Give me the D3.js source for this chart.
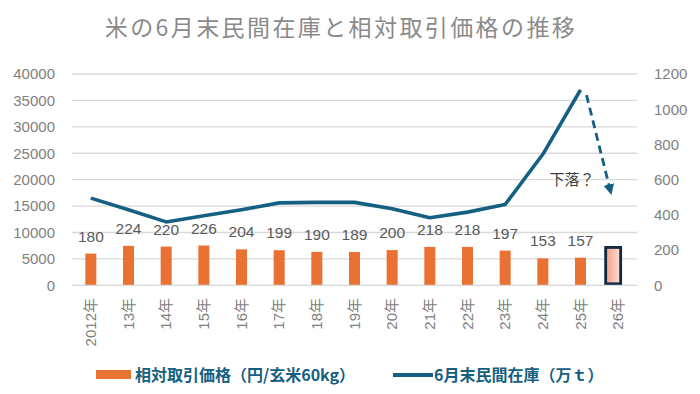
<!DOCTYPE html>
<html><head><meta charset="utf-8">
<script src="https://cdn.jsdelivr.net/npm/d3@7"></script>
<style>
html,body{margin:0;padding:0;background:#fff;}
svg{display:block;}
</style></head>
<body>
<svg id="c" width="700" height="394"></svg>
<script>
// ---- data ----
const categories = ["2012年","13年","14年","15年","16年","17年","18年","19年","20年","21年","22年","23年","24年","25年","26年"];
// bars (right axis, labelled values)
const barValues = [180,224,220,226,204,199,190,189,200,218,218,197,153,157,215];
const barLabels = ["180","224","220","226","204","199","190","189","200","218","218","197","153","157",""];
// line (left axis)
const lineValues = [16500,14300,12000,13150,14300,15600,15700,15700,14500,12800,13850,15300,24800,37000,null];
const leftTicks = [0,5000,10000,15000,20000,25000,30000,35000,40000];
const rightTicks = [0,200,400,600,800,1000,1200];
const title = "米の6月末民間在庫と相対取引価格の推移";
const legendLabels = ["相対取引価格（円/玄米60kg）","6月末民間在庫（万ｔ）"];
const annotationText = "下落？";
const arrowFrom = {cat:"25年", value:36000};
const arrowTo = {cat:"26年", value:17300};

// ---- layout ----
const L = 72, R = 637, T = 74, B = 285.3;
const latin = "'Liberation Sans', Arial, 'Noto Sans CJK JP', sans-serif";
const jp = "'Noto Sans CJK JP', sans-serif";
const cOrange = "#E97132", cTeal = "#156082", cNavy = "#0E2841";

const svg = d3.select("#c");
const x = d3.scaleBand().domain(categories).range([L, R]).padding(0);
const yL = d3.scaleLinear().domain([0, 40000]).range([B, T]);
const yR = d3.scaleLinear().domain([0, 1200]).range([B, T]);
const cx = c => x(c) + x.bandwidth() / 2;

const defs = svg.append("defs");
const grad = defs.append("linearGradient").attr("id","pinkg").attr("x1","0").attr("x2","1").attr("y1","0").attr("y2","0");
grad.append("stop").attr("offset","0%").attr("stop-color","#f4a08a");
grad.append("stop").attr("offset","100%").attr("stop-color","#fde0d6");
const mk = defs.append("marker").attr("id","arr").attr("viewBox","0 0 10 10")
  .attr("refX",9).attr("refY",5).attr("markerWidth",3.8).attr("markerHeight",3.8)
  .attr("orient","auto").attr("markerUnits","strokeWidth");
mk.append("path").attr("d","M0,0 L10,5 L0,10 Z").attr("fill",cTeal);

// title
svg.append("text").attr("x", 341).attr("y", 36).attr("text-anchor","middle")
  .attr("font-family", jp).attr("font-size", 23).attr("letter-spacing", 2.4)
  .attr("fill", "#8a8a8a").text(title);

// gridlines
svg.append("g").selectAll("line").data(leftTicks).join("line")
  .attr("x1", L).attr("x2", R).attr("y1", d => yL(d)).attr("y2", d => yL(d))
  .attr("stroke", "#d9d9d9").attr("stroke-width", 1.3);

// left axis
const axL = svg.append("g").attr("transform", `translate(${L},0)`)
  .call(d3.axisLeft(yL).tickValues(leftTicks).tickSize(0).tickPadding(17).tickFormat(d3.format("d")));
axL.select(".domain").remove();
axL.selectAll("text").attr("font-family", latin).attr("font-size", 15).attr("fill", "#7f7f7f");

// right axis
const axR = svg.append("g").attr("transform", `translate(${R},0)`)
  .call(d3.axisRight(yR).tickValues(rightTicks).tickSize(0).tickPadding(17).tickFormat(d3.format("d")));
axR.select(".domain").remove();
axR.selectAll("text").attr("font-family", latin).attr("font-size", 15).attr("fill", "#7f7f7f");

// bars
const bw = 11;
const barsData = categories.map((c, i) => ({c, v: barValues[i], lab: barLabels[i], last: i === categories.length - 1}));
svg.append("g").selectAll("rect").data(barsData.filter(d => !d.last)).join("rect")
  .attr("x", d => cx(d.c) - bw / 2).attr("width", bw)
  .attr("y", d => yR(d.v)).attr("height", d => B - yR(d.v))
  .attr("fill", cOrange);
const lastBar = barsData[barsData.length - 1];
const lbw = 15;
svg.append("rect")
  .attr("x", cx(lastBar.c) - 5 - lbw / 2).attr("width", lbw)
  .attr("y", yR(lastBar.v)).attr("height", B - 1.5 - yR(lastBar.v))
  .attr("fill", "url(#pinkg)").attr("stroke", cNavy).attr("stroke-width", 2.8);

// bar labels
svg.append("g").selectAll("text").data(barsData.filter(d => d.lab)).join("text")
  .attr("x", d => cx(d.c)).attr("y", d => yR(d.v) - 12).attr("text-anchor", "middle")
  .attr("font-family", latin).attr("font-size", 15.5).attr("fill", "#595959").text(d => d.lab);

// line
const lineData = categories.map((c, i) => ({c, v: lineValues[i]})).filter(d => d.v != null);
svg.append("path").datum(lineData)
  .attr("d", d3.line().x(d => cx(d.c)).y(d => yL(d.v)))
  .attr("fill", "none").attr("stroke", cTeal).attr("stroke-width", 3.6)
  .attr("stroke-linejoin", "round");

// axis baseline
svg.append("line").attr("x1", L).attr("x2", R).attr("y1", B).attr("y2", B)
  .attr("stroke", "#d9d9d9").attr("stroke-width", 1.3);

// x labels
svg.append("g").selectAll("text").data(categories).join("text")
  .attr("transform", d => `translate(${cx(d) + 5},298) rotate(-90)`)
  .attr("text-anchor", "end")
  .attr("font-family", latin).attr("font-size", 15).attr("fill", "#7f7f7f").text(d => d);

// annotation arrow
svg.append("line")
  .attr("x1", cx(arrowFrom.cat) + 6).attr("y1", yL(arrowFrom.value))
  .attr("x2", cx(arrowTo.cat) - 7).attr("y2", yL(arrowTo.value))
  .attr("stroke", cTeal).attr("stroke-width", 2.8).attr("stroke-dasharray", "8,5")
  .attr("marker-end", "url(#arr)");
svg.append("text").attr("x", cx(arrowFrom.cat) - 31).attr("y", 185)
  .attr("font-family", jp).attr("font-size", 15).attr("fill", "#404040").text(annotationText);

// legend
svg.append("rect").attr("x", 96).attr("y", 370).attr("width", 35).attr("height", 9).attr("fill", cOrange);
svg.append("text").attr("x", 135).attr("y", 381).attr("font-family", jp).attr("font-weight", 700)
  .attr("font-size", 16).attr("fill", cTeal).text(legendLabels[0]);
svg.append("line").attr("x1", 393).attr("x2", 433).attr("y1", 375).attr("y2", 375)
  .attr("stroke", cTeal).attr("stroke-width", 4);
svg.append("text").attr("x", 434).attr("y", 381).attr("font-family", jp).attr("font-weight", 700)
  .attr("font-size", 16).attr("fill", cTeal).text(legendLabels[1]);
</script>
</body></html>
